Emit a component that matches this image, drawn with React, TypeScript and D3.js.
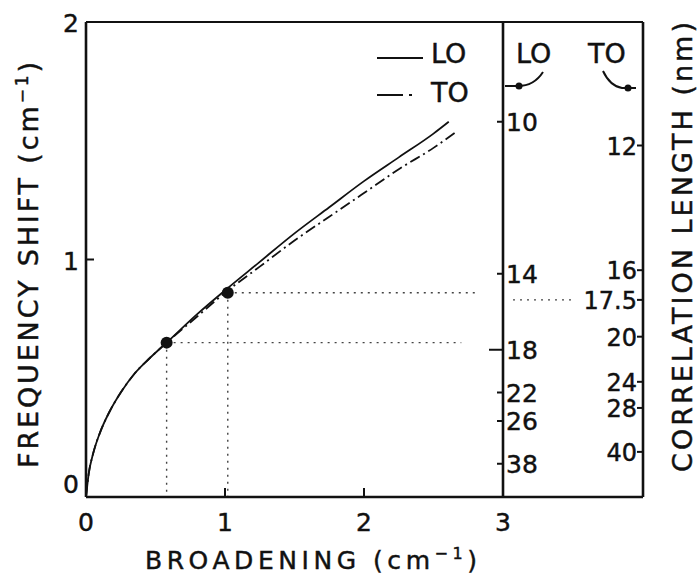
import React from "react";
import * as d3 from "d3";

const broadeningLO = [0, 0.02, 0.05, 0.1, 0.17, 0.25, 0.35, 0.45, 0.58, 0.8, 1.0, 1.25, 1.5, 1.75, 2.0, 2.25, 2.5, 2.61];
const shiftLO = [0, 0.1, 0.18, 0.27, 0.36, 0.44, 0.52, 0.58, 0.65, 0.77, 0.87, 0.99, 1.11, 1.22, 1.33, 1.43, 1.53, 1.58];
const broadeningTO = [0, 0.02, 0.05, 0.1, 0.17, 0.25, 0.35, 0.45, 0.58, 0.8, 1.0, 1.25, 1.5, 1.75, 2.0, 2.25, 2.5, 2.67];
const shiftTO = [0, 0.1, 0.18, 0.27, 0.36, 0.44, 0.52, 0.58, 0.65, 0.76, 0.86, 0.97, 1.08, 1.18, 1.28, 1.38, 1.47, 1.54];

const markBroadening = [0.58, 1.02];
const markShift = [0.65, 0.86];
const markDotEnd = [2.7, 2.83];

const xTicks = [0, 1, 2, 3];
const yTicks = [0, 1, 2];

const loLengthLabels = ["10", "14", "18", "22", "26", "38"];
const loLengthShift = [1.58, 0.94, 0.62, 0.44, 0.32, 0.14];
const toLengthLabels = ["12", "16", "17.5", "20", "24", "28", "40"];
const toLengthShift = [1.48, 0.955, 0.83, 0.675, 0.485, 0.375, 0.19];

const FONT = "'DejaVu Sans', sans-serif";
const INK = "#111";

export default function App() {
  const W = 699;
  const H = 581;
  const x = d3.scaleLinear().domain([0, 3]).range([86, 503]);
  const y = d3.scaleLinear().domain([0, 2]).range([497, 22]);
  const rightX = 643;

  const line = d3
    .line<[number, number]>()
    .x((d) => x(d[0]))
    .y((d) => y(d[1]))
    .curve(d3.curveMonotoneX);

  const loData: [number, number][] = broadeningLO.map((b, i) => [b, shiftLO[i]]);
  const toData: [number, number][] = broadeningTO.map((b, i) => [b, shiftTO[i]]);

  const dot = "2,5";
  const txt = { fill: INK, stroke: INK, strokeWidth: 0.45 };

  return (
    <svg
      width={W}
      height={H}
      style={{ position: "absolute", left: 0, top: 0, background: "#fff" }}
      fontFamily={FONT}
    >
      <rect width={W} height={H} fill="#fff" />
      {/* dotted guides */}
      {markBroadening.map((b, i) => (
        <g key={"g" + i} stroke="#444" strokeWidth={1.4} strokeDasharray={dot} fill="none">
          <line x1={x(b)} x2={x(b)} y1={y(markShift[i])} y2={y(0)} />
          <line x1={x(b)} x2={x(markDotEnd[i])} y1={y(markShift[i])} y2={y(markShift[i])} />
        </g>
      ))}
      <line
        x1={513}
        x2={572}
        y1={y(toLengthShift[2])}
        y2={y(toLengthShift[2])}
        stroke="#444"
        strokeWidth={1.4}
        strokeDasharray={dot}
      />

      {/* curves */}
      <path d={line(loData) || ""} fill="none" stroke={INK} strokeWidth={1.8} />
      <path
        d={line(toData) || ""}
        fill="none"
        stroke={INK}
        strokeWidth={1.8}
        strokeDasharray="11,4,2,4"
      />
      {markBroadening.map((b, i) => (
        <circle key={"c" + i} cx={x(b)} cy={y(markShift[i])} r={6} fill={INK} />
      ))}

      {/* frame */}
      <line x1={x(0)} x2={x(0)} y1={y(2)} y2={y(0)} stroke={INK} strokeWidth={2.6} />
      <line x1={x(0)} x2={rightX} y1={y(0)} y2={y(0)} stroke={INK} strokeWidth={2.4} />
      <line x1={x(0)} x2={rightX} y1={y(2)} y2={y(2)} stroke={INK} strokeWidth={2.2} />
      <line x1={x(3)} x2={x(3)} y1={y(2)} y2={y(0)} stroke={INK} strokeWidth={2.6} />
      <line x1={rightX} x2={rightX} y1={y(2)} y2={y(0)} stroke={INK} strokeWidth={2.6} />

      {/* axis ticks */}
      {xTicks.slice(1, 3).map((t) => (
        <line key={"xt" + t} x1={x(t)} x2={x(t)} y1={y(0)} y2={y(0) - 9} stroke={INK} strokeWidth={2} />
      ))}
      {yTicks.slice(1, 2).map((t) => (
        <line key={"yt" + t} x1={x(0)} x2={x(0) + 8} y1={y(t)} y2={y(t)} stroke={INK} strokeWidth={2} />
      ))}
      {xTicks.map((t) => (
        <text key={"xl" + t} x={x(t)} y={531} fontSize={25} textAnchor="middle" {...txt}>
          {t}
        </text>
      ))}
      {yTicks.map((t) => (
        <text
          key={"yl" + t}
          x={79}
          y={t === 0 ? 493 : y(t) + 10}
          fontSize={25}
          textAnchor="end"
          {...txt}
        >
          {t}
        </text>
      ))}

      {/* axis titles */}
      <text x={311} y={569} fontSize={25} textAnchor="middle" textLength={332} lengthAdjust="spacing" {...txt}>
        BROADENING (cm
        <tspan fontSize={16} dy={-10}>−1</tspan>
        <tspan dy={10}>)</tspan>
      </text>
      <text
        transform="translate(38,265) rotate(-90)"
        fontSize={27}
        textAnchor="middle"
        textLength={406}
        lengthAdjust="spacing"
        {...txt}
      >
        FREQUENCY SHIFT (cm
        <tspan fontSize={17} dy={-10}>−1</tspan>
        <tspan dy={10}>)</tspan>
      </text>
      <text
        transform="translate(692,247) rotate(-90)"
        fontSize={27}
        textAnchor="middle"
        textLength={450}
        lengthAdjust="spacing"
        {...txt}
      >
        CORRELATION LENGTH (nm)
      </text>

      {/* legend */}
      <line x1={377} x2={423} y1={58} y2={58} stroke={INK} strokeWidth={1.8} />
      <text x={431} y={63} fontSize={27} {...txt}>LO</text>
      <line x1={377} x2={421} y1={95} y2={95} stroke={INK} strokeWidth={1.8} strokeDasharray="26,6,3,20" />
      <text x={431} y={102} fontSize={27} {...txt}>TO</text>

      {/* right panel headers */}
      <text x={516} y={63} fontSize={27} {...txt}>LO</text>
      <text x={588} y={63} fontSize={27} {...txt}>TO</text>
      <path d="M505,86 L518,86 Q534,86 543,72" fill="none" stroke={INK} strokeWidth={2} />
      <circle cx={519} cy={86} r={3.5} fill={INK} />
      <path d="M603,71 Q610,86 622,88 L636,88" fill="none" stroke={INK} strokeWidth={2} />
      <circle cx={628} cy={88} r={3.5} fill={INK} />

      {/* LO correlation-length scale */}
      {loLengthLabels.map((l, i) => (
        <g key={"lo" + l}>
          <line
            x1={x(3) - (l === "18" ? 14 : 6)}
            x2={x(3)}
            y1={y(loLengthShift[i])}
            y2={y(loLengthShift[i])}
            stroke={INK}
            strokeWidth={2}
          />
          <text x={x(3) + 3} y={y(loLengthShift[i]) + 9} fontSize={25} {...txt}>
            {l}
          </text>
        </g>
      ))}
      {/* TO correlation-length scale */}
      {toLengthLabels.map((l, i) => (
        <g key={"to" + l}>
          <line
            x1={rightX - 6}
            x2={rightX}
            y1={y(toLengthShift[i])}
            y2={y(toLengthShift[i])}
            stroke={INK}
            strokeWidth={2}
          />
          <text
            x={rightX - 6}
            y={y(toLengthShift[i]) + 9}
            fontSize={24}
            textAnchor="end"
            {...txt}
          >
            {l}
          </text>
        </g>
      ))}
    </svg>
  );
}
